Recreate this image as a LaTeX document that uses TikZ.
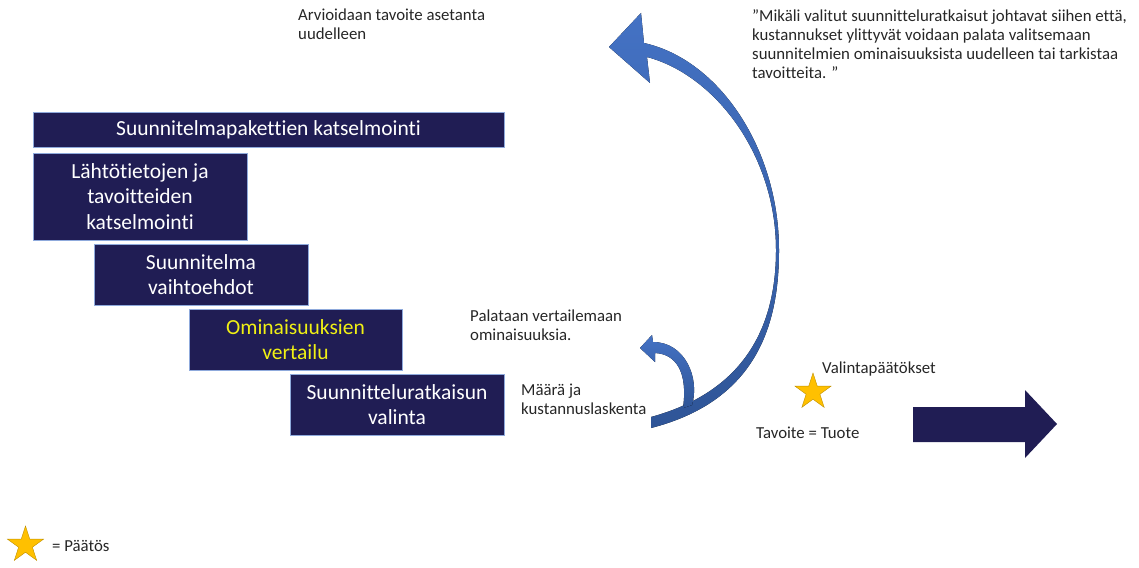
\documentclass[tikz,border=0pt]{standalone}
\usepackage{fontspec}
\setmainfont{Carlito}[Ligatures=NoCommon]
\usetikzlibrary{shapes.geometric}
\definecolor{navy}{RGB}{32,29,84}
\definecolor{boxedge}{RGB}{143,170,220}
\definecolor{arcblue}{RGB}{68,114,196}
\definecolor{arcdark}{RGB}{47,85,151}
\definecolor{staryellow}{RGB}{255,192,0}
\definecolor{staredge}{RGB}{191,144,0}
\definecolor{txtgray}{RGB}{38,38,38}
\definecolor{hiyellow}{RGB}{240,240,20}

\begin{document}
\begin{tikzpicture}[x=1pt,y=-1pt,
    stepbox/.style={draw=boxedge, line width=0.8pt, fill=navy, text=white, align=center,
        inner sep=0pt, font=\fontsize{21.5}{25.5}\selectfont},
    note/.style={anchor=west, align=left, inner sep=0pt, text=txtgray,
        font=\fontsize{16.8}{19}\selectfont},
    decision/.style={star, star points=5, star point ratio=2.618, draw=staredge,
        fill=staryellow, inner sep=0pt, minimum size=38pt}]
\useasboundingbox (0,0) rectangle (1139,567);

\node[stepbox, minimum width=471pt, minimum height=35pt] (paketit) at (268.5,129.5) {Suunnitelmapakettien katselmointi};
\node[stepbox, minimum width=214pt, minimum height=87pt] (lahtotiedot) at (140,196.5) {Lähtötietojen ja\\tavoitteiden\\katselmointi};
\node[stepbox, minimum width=214pt, minimum height=61pt] (vaihtoehdot) at (201,274.5) {Suunnitelma\\vaihtoehdot};
\node[stepbox, minimum width=213pt, minimum height=61pt, text=hiyellow] (vertailu) at (295.5,339.5) {Ominaisuuksien\\vertailu};
\node[stepbox, minimum width=214pt, minimum height=61pt] (valinta) at (397,404.5) {Suunnitteluratkaisun\\valinta};

\node[note] (arvioidaan) at (298,24) {Arvioidaan tavoite asetanta\\uudelleen};
\node[note] (lainaus) at (752,44) {”Mikäli valitut suunnitteluratkaisut johtavat siihen että,\\kustannukset ylittyvät voidaan palata valitsemaan\\suunnitelmien ominaisuuksista uudelleen tai tarkistaa\\tavoitteita. ”};
\node[note] (palataan) at (470,325) {Palataan vertailemaan\\ominaisuuksia.};
\node[note] (laskenta) at (521,399) {Määrä ja\\kustannuslaskenta};

\node[decision] (valintastar) at (813,392) {};
\node[note] (valintapaatokset) at (822,369) {Valintapäätökset};
\node[note] (tavoite) at (756,433) {Tavoite = Tuote};

\node[decision] (legendstar) at (25.5,545) {};
\node[note] (legend) at (52,546) {= Päätös};

\coordinate (bigtail) at (651,422);
\coordinate (bigtip) at (609,47);
\fill[top color=arcblue, bottom color=arcdark]
    (651,428) .. controls (760,400) and (779,320) .. (779,250)
    .. controls (779,150) and (720,60) .. (644,43)
    -- (641,13) -- (bigtip) -- (650,83) -- (647,57)
    .. controls (715,75) and (776,155) .. (776,250)
    .. controls (776,320) and (750,390) .. (651,417) -- cycle;

\coordinate (smalltip) at (640,348);
\fill[top color=arcblue, bottom color=arcdark]
    (692,405) .. controls (700,378) and (685,342) .. (653,342)
    -- (652,335) -- (smalltip) -- (655,362) -- (655,353)
    .. controls (676,354) and (688,372) .. (683,408) -- cycle;

\coordinate (goaltail) at (913,424);
\coordinate (goaltip) at (1057,424);
\fill[navy] (913,407) -- (1025,407) -- (1025,390) -- (goaltip) -- (1025,458)
    -- (1025,442) -- (913,442) -- cycle;
\end{tikzpicture}
\end{document}
